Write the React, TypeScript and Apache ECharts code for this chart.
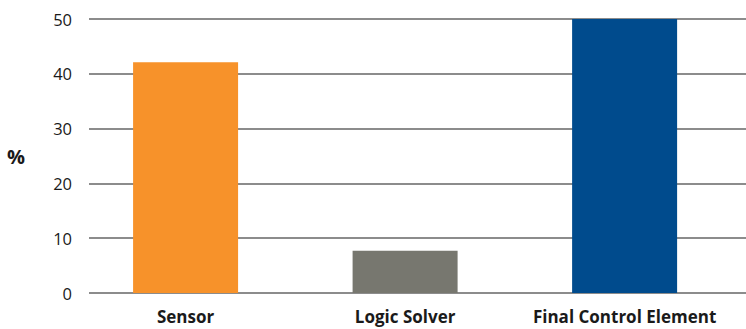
import React, { useEffect, useRef } from "react";
import * as echarts from "echarts";

const categories = ["Sensor", "Logic Solver", "Final Control Element"];
const values = [42.1, 7.7, 50];
const colors = ["#F7922A", "#77776F", "#004B8D"];
const yTicks = [0, 10, 20, 30, 40, 50];

export default function App() {
  const ref = useRef<HTMLDivElement>(null);
  useEffect(() => {
    if (!ref.current) return;
    const chart = echarts.init(ref.current, null, { renderer: "svg" });
    chart.setOption({
      animation: false,
      grid: { left: 89, right: 0, top: 19, bottom: 36 },
      xAxis: {
        type: "value",
        min: -0.44,
        max: 2.553,
        splitLine: { show: false },
        axisLine: { show: false },
        axisTick: { show: false },
        axisLabel: {
          customValues: [0, 1, 2],
          formatter: (v: number) => categories[Math.round(v)] ?? "",
          fontFamily: "Open Sans",
          fontWeight: "bold",
          fontSize: 17,
          color: "#1a1a1a",
          margin: 15,
        },
      },
      yAxis: {
        type: "value",
        min: yTicks[0],
        max: yTicks[yTicks.length - 1],
        interval: 10,
        name: "%",
        nameLocation: "middle",
        nameRotate: 0,
        nameGap: 64,
        nameTextStyle: {
          fontFamily: "Open Sans",
          fontWeight: "bold",
          fontSize: 20,
          color: "#1a1a1a",
        },
        axisLine: { show: false },
        axisTick: { show: false },
        splitLine: { lineStyle: { color: "#666", width: 1.5 } },
        axisLabel: {
          fontFamily: "Open Sans",
          fontSize: 16.5,
          color: "#1a1a1a",
          margin: 17,
        },
      },
      series: [
        {
          type: "bar",
          barWidth: 105,
          data: values.map((v, i) => ({
            value: [i, v],
            itemStyle: { color: colors[i] },
          })),
        },
      ],
    });
    return () => chart.dispose();
  }, []);
  return <div ref={ref} style={{ width: 746, height: 329, position: "absolute", left: 0, top: 0 }} />;
}
